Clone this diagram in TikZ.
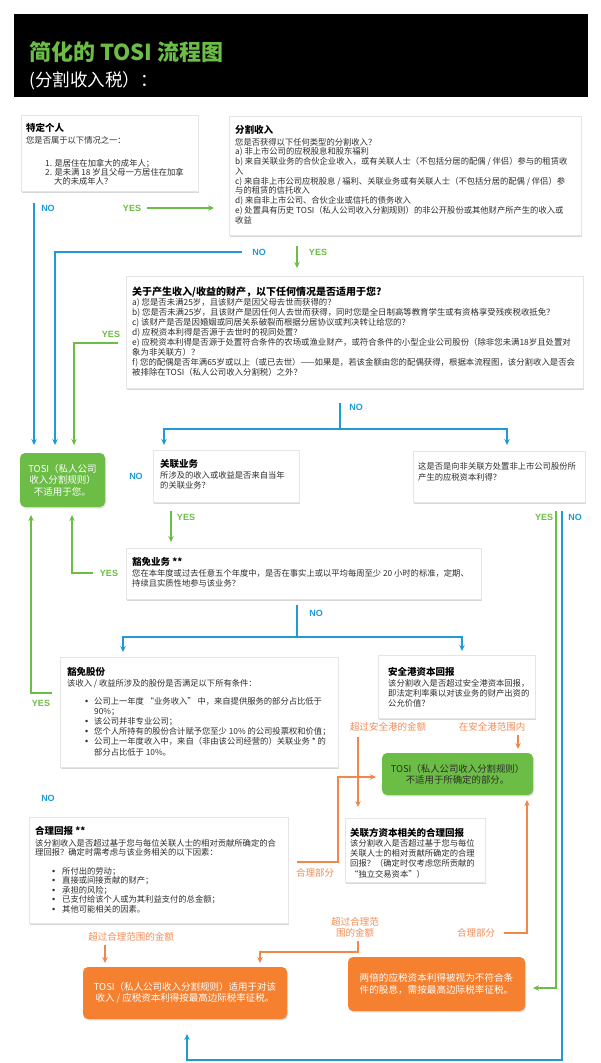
\documentclass[tikz,border=0pt]{standalone}
\usepackage{fontspec}
\setmainfont{Noto Sans CJK SC}
\newfontfamily\lat{Liberation Sans}
\usetikzlibrary{arrows.meta,shadows,fit}
\definecolor{tblue}{RGB}{30,155,215}
\definecolor{tgreen}{RGB}{108,189,69}
\definecolor{torange}{RGB}{245,128,48}
\definecolor{tolab}{RGB}{243,140,85}
\definecolor{tline}{RGB}{243,135,75}
\definecolor{ttext}{RGB}{45,45,45}
\newcommand{\bul}[1]{\makebox[#1][l]{{\lat\fontsize{9}{9}\selectfont •}}}
\tikzset{
  card/.style={fill=white, draw=black!10, line width=0.4pt, inner sep=0pt, outer sep=0pt,
    drop shadow={shadow xshift=1.3pt, shadow yshift=-1.6pt, opacity=0.3}},
  gbox/.style={fill=tgreen, rounded corners=5pt, inner sep=0pt, outer sep=0pt,
    drop shadow={shadow xshift=1pt, shadow yshift=-1.4pt, opacity=0.25}},
  obox/.style={fill=torange, rounded corners=5pt, inner sep=0pt, outer sep=0pt,
    drop shadow={shadow xshift=1pt, shadow yshift=-1.4pt, opacity=0.25}},
  ttl/.style={anchor=base west, inner sep=0pt, text=black, font=\bfseries\fontsize{9.5}{11}\selectfont},
  body/.style={anchor=north west, inner sep=0pt, align=left, text=ttext, font=\fontsize{8.3}{9.8}\selectfont},
  btxt/.style={anchor=center, inner sep=0pt, align=center, font=\fontsize{9.5}{11.5}\selectfont},
  yeslab/.style={text=tgreen, inner sep=0pt, font=\lat\bfseries\fontsize{9}{10}\selectfont},
  nolab/.style={text=tblue, inner sep=0pt, font=\lat\bfseries\fontsize{9}{10}\selectfont},
  olab/.style={text=tolab, inner sep=0pt, align=center, font=\fontsize{9.5}{11}\selectfont},
  bl/.style={draw=tblue, line width=1.3pt},
  gl/.style={draw=tgreen, line width=1.3pt},
  ol/.style={draw=tline, line width=1.2pt},
  arr/.style={-{Stealth[length=6pt,width=5.5pt]}},
}
\begin{document}
\begin{tikzpicture}[x=1pt,y=-1pt]
\useasboundingbox (0,0) rectangle (600,1063);
\fill[white] (0,0) rectangle (600,1063);

% header
\node[fill=black, inner sep=0pt, fit={(14,14) (588,97)}] (hdr) {};
\node[anchor=base west, inner sep=0pt, text=tgreen, font=\bfseries\fontsize{22}{26}\selectfont] (title) at (29,60.4) {简化的 TOSI 流程图};
\node[anchor=base west, inner sep=0pt, text=white, font=\fontsize{17.5}{21}\selectfont] (subtitle) at (29,86.7) {(分割收入税）：};

% Box A
\node[card, fit={(21,115) (198,191)}] (A) {};
\node[ttl] (tA) at (26,131.6) {特定个人};
\node[body] (bA) at (26,135.9) {您是否属于以下情况之一：};
\node[body, font=\fontsize{8.3}{9.2}\selectfont] (lA) at (45,158.9) {1. 是居住在加拿大的成年人；\\2. 是未满 18 岁且父母一方居住在加拿\\\hspace*{9pt}大的未成年人？};

% Box B
\node[card, fit={(229,116) (581,235)}] (B) {};
\node[ttl] (tB) at (235,133.6) {分割收入};
\node[body, font=\fontsize{8.3}{9.75}\selectfont] (bB) at (235,137.9) {您是否获得以下任何类型的分割收入？\\
a) 非上市公司的应税股息和股东福利\\
b) 来自关联业务的合伙企业收入，或有关联人士（不包括分居的配偶 / 伴侣）参与的租赁收\\
入\\
c) 来自非上市公司应税股息 / 福利、关联业务或有关联人士（不包括分居的配偶 / 伴侣）参\\
与的租赁的信托收入\\
d) 来自非上市公司、合伙企业或信托的债务收入\\
e) 处置具有历史 TOSI（私人公司收入分割规则）的非公开股份或其他财产所产生的收入或\\
收益};

% Box C
\node[card, fit={(126,276) (583,388)}] (C) {};
\node[ttl, font=\bfseries\fontsize{10}{12}\selectfont] (tC) at (132,295.8) {关于产生收入/收益的财产，以下任何情况是否适用于您?};
\node[body, font=\fontsize{8.4}{10}\selectfont] (bC) at (132,297.9) {a) 您是否未满25岁，且该财产是因父母去世而获得的？\\
b) 您是否未满25岁，且该财产是因任何人去世而获得，同时您是全日制高等教育学生或有资格享受残疾税收抵免？\\
c) 该财产是否是因婚姻或同居关系破裂而根据分居协议或判决转让给您的？\\
d) 应税资本利得是否源于去世时的视同处置？\\
e) 应税资本利得是否源于处置符合条件的农场或渔业财产，或符合条件的小型企业公司股份（除非您未满18岁且处置对\\
象为非关联方）？\\
f) 您的配偶是否年满65岁或以上（或已去世）——如果是，若该金额由您的配偶获得，根据本流程图，该分割收入是否会\\
被排除在TOSI（私人公司收入分割税）之外？};

% TOSI box (green, left)
\node[gbox, fit={(20,453) (105,507)}] (T1) {};
\node[btxt, text=white] (tT1) at (T1.center) {TOSI（私人公司\\收入分割规则）\\不适用于您。};

% Box D
\node[card, fit={(153,450) (299,502)}] (D) {};
\node[ttl] (tD) at (160,467.6) {关联业务};
\node[body, font=\fontsize{8.3}{10}\selectfont] (bD) at (160,470.9) {所涉及的收入或收益是否来自当年\\的关联业务？};

% Box E
\node[card, fit={(413,451) (585,502)}] (E) {};
\node[body, font=\fontsize{8.3}{11}\selectfont] (bE) at (418,461.9) {这是否是向非关联方处置非上市公司股份所\\产生的应税资本利得？};

% Box F
\node[card, fit={(126,548) (481,599)}] (F) {};
\node[ttl] (tF) at (132,565.6) {豁免业务 **};
\node[body, font=\fontsize{8.3}{10}\selectfont] (bF) at (132,568.9) {您在本年度或过去任意五个年度中，是否在事实上或以平均每周至少 20 小时的标准，定期、\\持续且实质性地参与该业务？};

% Box G
\node[card, fit={(60,657) (338,767)}] (G) {};
\node[ttl] (tG) at (67,675.6) {豁免股份};
\node[body] (bG) at (67,678.9) {该收入 / 收益所涉及的股份是否满足以下所有条件：};
\node[body, font=\fontsize{8.3}{10.2}\selectfont] (lG) at (85,696.9) {\bul{9pt}公司上一年度 “业务收入” 中，来自提供服务的部分占比低于\\
\hspace*{9pt}90\%；\\
\bul{9pt}该公司并非专业公司；\\
\bul{9pt}您个人所持有的股份合计赋予您至少 10\% 的公司投票权和价值；\\
\bul{9pt}公司上一年度收入中，来自（非由该公司经营的）关联业务 * 的\\
\hspace*{9pt}部分占比低于 10\%。};

% Box H
\node[card, fit={(378,655) (535,718)}] (H) {};
\node[ttl] (tH) at (388,675.6) {安全港资本回报};
\node[body, font=\fontsize{8.3}{10}\selectfont] (bH) at (388,678.9) {该分割收入是否超过安全港资本回报，\\即法定利率乘以对该业务的财产出资的\\公允价值？};

% Green box I
\node[gbox, fit={(382,753) (533,795)}] (I) {};
\node[btxt, text=ttext, font=\fontsize{9.4}{11}\selectfont] (tI) at (I.center) {TOSI（私人公司收入分割规则）\\不适用于所确定的部分。};

% Box J
\node[card, fit={(29,817) (288,923)}] (J) {};
\node[ttl] (tJ) at (35,834.6) {合理回报 **};
\node[body, font=\fontsize{8.3}{9.5}\selectfont] (bJ) at (35,838.9) {该分割收入是否超过基于您与每位关联人士的相对贡献所确定的合\\理回报？确定时需考虑与该业务相关的以下因素：};
\node[body, font=\fontsize{8.3}{9.5}\selectfont] (lJ) at (52,866.9) {\bul{10pt}所付出的劳动；\\
\bul{10pt}直接或间接贡献的财产；\\
\bul{10pt}承担的风险；\\
\bul{10pt}已支付给该个人或为其利益支付的总金额；\\
\bul{10pt}其他可能相关的因素。};

% Box K
\node[card, fit={(345,818) (485,882)}] (K) {};
\node[ttl] (tK) at (350,836.6) {关联方资本相关的合理回报};
\node[body, font=\fontsize{8.3}{10.3}\selectfont] (bK) at (350,838.9) {该分割收入是否超过基于您与每位\\关联人士的相对贡献所确定的合理\\回报？（确定时仅考虑您所贡献的\\“独立交易资本”）};

% Orange boxes
\node[obox, fit={(83,967) (287,1019)}] (L) {};
\node[btxt, text=white] (tL) at (L.center) {TOSI（私人公司收入分割规则）适用于对该\\收入 / 应税资本利得按最高边际税率征税。};
\node[obox, fit={(348,957) (525,1011)}] (M) {};
\node[btxt, text=white, font=\fontsize{9.6}{12}\selectfont] (tM) at (M.center) {两倍的应税资本利得被视为不符合条\\件的股息，需按最高边际税率征税。};

% Labels
\node[nolab] (n1) at (48,208) {NO};
\node[yeslab] (y1) at (132,208) {YES};
\node[nolab] (n2) at (259,252) {NO};
\node[yeslab] (y2) at (318,252) {YES};
\node[yeslab] (y3) at (111,334) {YES};
\node[nolab] (n3) at (356,407) {NO};
\node[nolab] (n4) at (136,476) {NO};
\node[yeslab] (y4) at (186,517) {YES};
\node[yeslab] (y5) at (544,517) {YES};
\node[nolab] (n5) at (575,517) {NO};
\node[yeslab] (y6) at (109,573) {YES};
\node[nolab] (n6) at (316,613) {NO};
\node[yeslab] (y7) at (41,703) {YES};
\node[nolab] (n7) at (48,798) {NO};

\node[olab] (o1) at (388,727) {超过安全港的金额};
\node[olab] (o2) at (492,727) {在安全港范围内};
\node[olab] (o3) at (315,873) {合理部分};
\node[olab] (o4) at (131,937) {超过合理范围的金额};
\node[olab] (o5) at (355,927.5) {超过合理范\\围的金额};
\node[olab] (o6) at (476,933) {合理部分};

% Coordinates
\coordinate (b1s) at (34,203);   \coordinate (b1e) at (34,445);
\coordinate (b2s) at (242,252);  \coordinate (b2m) at (55,252);  \coordinate (b2e) at (55,445);
\coordinate (b3s) at (340,403);  \coordinate (b3m) at (340,429);
\coordinate (b3l) at (164,429);  \coordinate (b3le) at (164,445);
\coordinate (b3r) at (507,429);  \coordinate (b3re) at (507,445);
\coordinate (b4s) at (297,605);  \coordinate (b4m) at (297,637);
\coordinate (b4l) at (123,637);  \coordinate (b4le) at (123,652);
\coordinate (b4r) at (462,637);  \coordinate (b4re) at (462,651);
\coordinate (b5s) at (562,511);  \coordinate (b5a) at (562,1060); \coordinate (b5b) at (187,1060); \coordinate (b5e) at (187,1034);

\coordinate (g1s) at (147,208);  \coordinate (g1e) at (214,208);
\coordinate (g2s) at (297,246);  \coordinate (g2e) at (297,268);
\coordinate (g3s) at (118,343);  \coordinate (g3m) at (74,343);  \coordinate (g3e) at (74,445);
\coordinate (g4s) at (171,511);  \coordinate (g4e) at (171,542);
\coordinate (g5s) at (93,573);   \coordinate (g5m) at (72,573);  \coordinate (g5e) at (72,515);
\coordinate (g6s) at (52,693);   \coordinate (g6m) at (31,693);  \coordinate (g6e) at (31,515);
\coordinate (g7s) at (556,511);  \coordinate (g7m) at (556,988); \coordinate (g7e) at (533,988);

\coordinate (o1s) at (358,737);  \coordinate (o1e) at (358,807);
\coordinate (o2s) at (518,735);  \coordinate (o2e) at (518,749);
\coordinate (o3s) at (297,862);  \coordinate (o3a) at (338,862); \coordinate (o3b) at (338,777); \coordinate (o3e) at (376,777);
\coordinate (o4s) at (504,933);  \coordinate (o4m) at (527,933); \coordinate (o4e) at (527,800);
\coordinate (o5s) at (105,945);  \coordinate (o5e) at (105,963);
\coordinate (o6s) at (358,941);  \coordinate (o6a) at (358,952); \coordinate (o6b) at (260,952); \coordinate (o6e) at (260,963);

% Blue connectors
\draw[bl,arr] (b1s) -- (b1e);
\draw[bl,arr] (b2s) -- (b2m) -- (b2e);
\draw[bl] (b3s) -- (b3m);
\draw[bl,arr] (b3m) -- (b3l) -- (b3le);
\draw[bl,arr] (b3m) -- (b3r) -- (b3re);
\draw[bl] (b4s) -- (b4m);
\draw[bl,arr] (b4m) -- (b4l) -- (b4le);
\draw[bl,arr] (b4m) -- (b4r) -- (b4re);
\draw[bl,arr] (b5s) -- (b5a) -- (b5b) -- (b5e);

% Green connectors
\draw[gl,arr] (g1s) -- (g1e);
\draw[gl,arr] (g2s) -- (g2e);
\draw[gl,arr] (g3s) -- (g3m) -- (g3e);
\draw[gl,arr] (g4s) -- (g4e);
\draw[gl,arr] (g5s) -- (g5m) -- (g5e);
\draw[gl,arr] (g6s) -- (g6m) -- (g6e);
\draw[gl,arr] (g7s) -- (g7m) -- (g7e);

% Orange connectors
\draw[ol,arr] (o1s) -- (o1e);
\draw[ol,arr] (o2s) -- (o2e);
\draw[ol,arr] (o3s) -- (o3a) -- (o3b) -- (o3e);
\draw[ol,arr] (o4s) -- (o4m) -- (o4e);
\draw[ol,arr] (o5s) -- (o5e);
\draw[ol,arr] (o6s) -- (o6a) -- (o6b) -- (o6e);
\end{tikzpicture}
\end{document}
